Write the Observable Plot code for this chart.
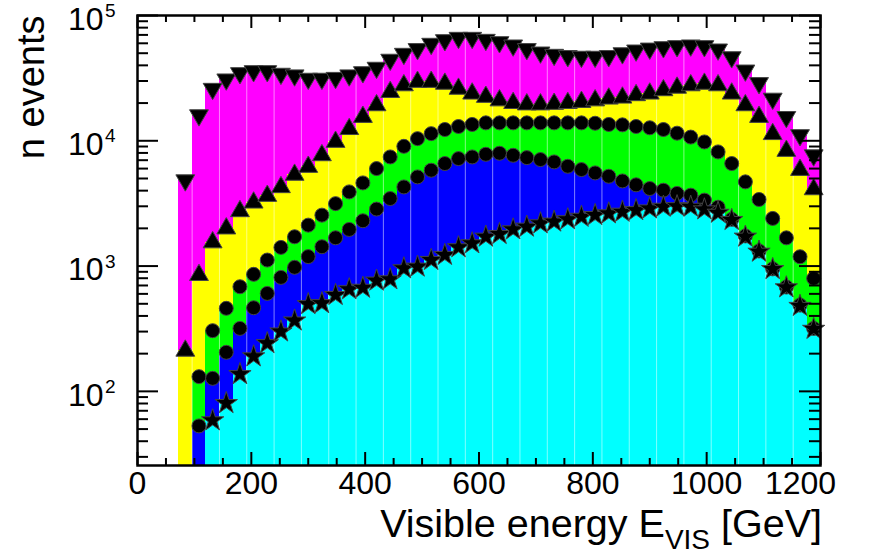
<!DOCTYPE html>
<html><head><meta charset="utf-8">
<script src="https://cdn.jsdelivr.net/npm/d3@7"></script>
<script src="https://cdn.jsdelivr.net/npm/@observablehq/plot@0.6"></script>
<style>
html,body{margin:0;padding:0;background:#fff;}
#chart{width:869px;height:559px;}
</style></head><body><div id="chart"></div>
<script>
// Histogram binning (GeV)
const binWidth = 24;
// Stacked cumulative bin contents (top of each layer)
const magenta = [null,null,null,4840,16000,26000,30900,34700,36000,36000,
 34300,33300,31300,31300,31800,33300,35300,38300,44400,49500,
 54000,59500,63600,66400,66400,64000,61300,57700,54000,50700,
 48600,47500,46900,46900,47500,50000,52600,54500,55900,57000,
 57700,57000,53600,46500,36400,28900,21700,15500,11100,7660];
const yellow = [null,null,null,211,848,1545,1995,2740,3210,3630,
 4260,5350,6190,7660,9800,12400,15500,19200,24500,27700,
 29500,29500,28500,26000,23800,22400,21000,20000,19500,19500,
 19700,20000,20400,21000,21700,22100,23100,23800,25300,26500,
 27700,28500,27700,23800,19200,15500,11300,8300,5850,4100];
const green = [null,null,null,null,131,305,460,684,859,1117,
 1409,1714,2122,2550,3150,3910,4610,6000,7430,9030,
 10400,11400,12300,13000,13500,13900,13900,13900,13900,13900,
 13900,13900,13900,13800,13500,13400,13000,12700,12300,11500,
 10700,9790,8150,6580,4700,3400,2400,1680,1187,797];
const blue = [null,null,null,null,53,127,205,318,465,605,
 812,977,1190,1427,1682,1960,2300,2850,3460,4280,
 5150,5820,6580,7210,7430,7800,7950,7660,7340,7080,
 6780,6260,5890,5540,5210,4780,4450,4160,4030,3800,
 3680,3360,2950,2360,1740,1320,950,680,488,318];
const cyan = [null,null,null,null,null,58.6,80.5,137,190,242,
 300,367,496,505,587,652,670,764,783,958,
 988,1117,1225,1410,1517,1714,1800,1960,2060,2190,
 2260,2360,2470,2550,2630,2710,2790,2880,2970,3000,
 2970,2830,2660,2330,1714,1300,945,675,480,315];

// Axis ticks
const xMajor = [0,200,400,600,800,1000,1200];
const xMinor = [50,100,150,250,300,350,450,500,550,650,700,750,850,900,950,1050,1100,1150];
const yMajor = [100,1000,10000,100000];
const yMinor = [30,40,50,60,70,80,90,200,300,400,500,600,700,800,900,
 2000,3000,4000,5000,6000,7000,8000,9000,20000,30000,40000,50000,60000,70000,80000,90000];

const yMin = 25.6, yMax = 100000;
const W = 869, H = 559;
const mL = 137, mR = 49, mT = 15, mB = 94;
const innerW = W - mL - mR, innerH = H - mT - mB;
const FONT = "'Liberation Sans', Arial, Helvetica, sans-serif";

const layers = [
  {values: magenta, color: "#ff00ff", symbol: "triangle", rotate: 180, r: 7},
  {values: yellow,  color: "#ffff00", symbol: "triangle", rotate: 0,   r: 7},
  {values: green,   color: "#00ff00", symbol: "circle",   rotate: 0,   r: 7},
  {values: blue,    color: "#0000ff", symbol: "circle",   rotate: 0,   r: 7},
  {values: cyan,    color: "#00ffff", symbol: "star",     rotate: 0,   r: 7}
];
const binsOf = vals => vals.map((v, i) => v == null ? null : {x1: i*binWidth, x2: (i+1)*binWidth, xc: (i+0.5)*binWidth, v}).filter(Boolean);

// light separators every two bins, up to the lower of the adjacent totals
const seps = [];
for (let i = 4; i < magenta.length; i += 2) {
  const a = magenta[i-1], b = magenta[i];
  if (a != null && b != null) seps.push({x: i*binWidth, top: Math.min(a, b)});
}

const marks = [];
for (const L of layers) {
  marks.push(Plot.rect(binsOf(L.values), {x1: "x1", x2: "x2", y1: () => yMin, y2: "v", fill: L.color, insetRight: -0.6, shapeRendering: "crispEdges"}));
}
marks.push(Plot.ruleX(seps, {x: "x", y1: () => yMin, y2: "top", stroke: "white", strokeOpacity: 0.5, strokeWidth: 1}));
for (const L of layers) {
  marks.push(Plot.dot(binsOf(L.values), {x: "xc", y: "v", symbol: L.symbol, rotate: L.rotate, fill: "black", stroke: "#444", strokeWidth: 1, r: L.r}));
}
// ticks (inside the frame, on all four sides)
marks.push(Plot.tickX(xMajor, {x: d => d, insetTop: innerH - 13, stroke: "black", strokeWidth: 2}));
marks.push(Plot.tickX(xMinor, {x: d => d, insetTop: innerH - 7, stroke: "black", strokeWidth: 2}));
marks.push(Plot.tickX(xMajor, {x: d => d, insetBottom: innerH - 13, stroke: "black", strokeWidth: 2}));
marks.push(Plot.tickX(xMinor, {x: d => d, insetBottom: innerH - 7, stroke: "black", strokeWidth: 2}));
marks.push(Plot.tickY(yMajor, {y: d => d, insetRight: innerW - 21, stroke: "black", strokeWidth: 2}));
marks.push(Plot.tickY(yMinor, {y: d => d, insetRight: innerW - 11, stroke: "black", strokeWidth: 2}));
marks.push(Plot.tickY(yMajor, {y: d => d, insetLeft: innerW - 21, stroke: "black", strokeWidth: 2}));
marks.push(Plot.tickY(yMinor, {y: d => d, insetLeft: innerW - 11, stroke: "black", strokeWidth: 2}));
marks.push(Plot.frame({stroke: "black", strokeWidth: 2.5}));
// tick labels
const xLabelsMain = xMajor.filter(d => d !== 1200);
const xLabelsLast = xMajor.filter(d => d === 1200);
marks.push(Plot.text(xLabelsMain, {x: d => d, text: d => String(d), frameAnchor: "bottom", dy: 28, fontSize: 32, fill: "black"}));
marks.push(Plot.text(xLabelsLast, {x: d => d, text: d => String(d), frameAnchor: "bottom", dy: 28, dx: -20, fontSize: 32, fill: "black"}));
marks.push(Plot.text(yMajor, {y: d => d, text: () => "10", frameAnchor: "left", dx: -34, dy: 4, textAnchor: "end", fontSize: 32, fill: "black"}));
marks.push(Plot.text(yMajor, {y: d => d, text: d => String(Math.round(Math.log10(d))), frameAnchor: "left", dx: -22, dy: -4.5, textAnchor: "end", fontSize: 19, fill: "black"}));
// y title
marks.push(Plot.text(["n events"], {frameAnchor: "top-left", dx: -94, rotate: -90, textAnchor: "end", lineAnchor: "bottom", fontSize: 38, fill: "black"}));

const plot = Plot.plot({
  width: W, height: H,
  marginLeft: mL, marginRight: mR, marginTop: mT, marginBottom: mB,
  style: {fontFamily: FONT, background: "white", color: "black"},
  x: {domain: [0, 1200], axis: null},
  y: {type: "log", domain: [yMin, yMax], axis: null},
  marks
});
document.getElementById("chart").appendChild(plot);

// x title with subscript
const t = d3.select(plot).append("text")
  .attr("x", 822).attr("y", 537)
  .attr("text-anchor", "end")
  .attr("font-family", FONT)
  .attr("font-size", 39.5).attr("fill", "black");
t.append("tspan").text("Visible energy E");
t.append("tspan").attr("dy", 12).attr("font-size", 28).text("VIS");
t.append("tspan").attr("dy", -12).text(" [GeV]");
</script></body></html>
